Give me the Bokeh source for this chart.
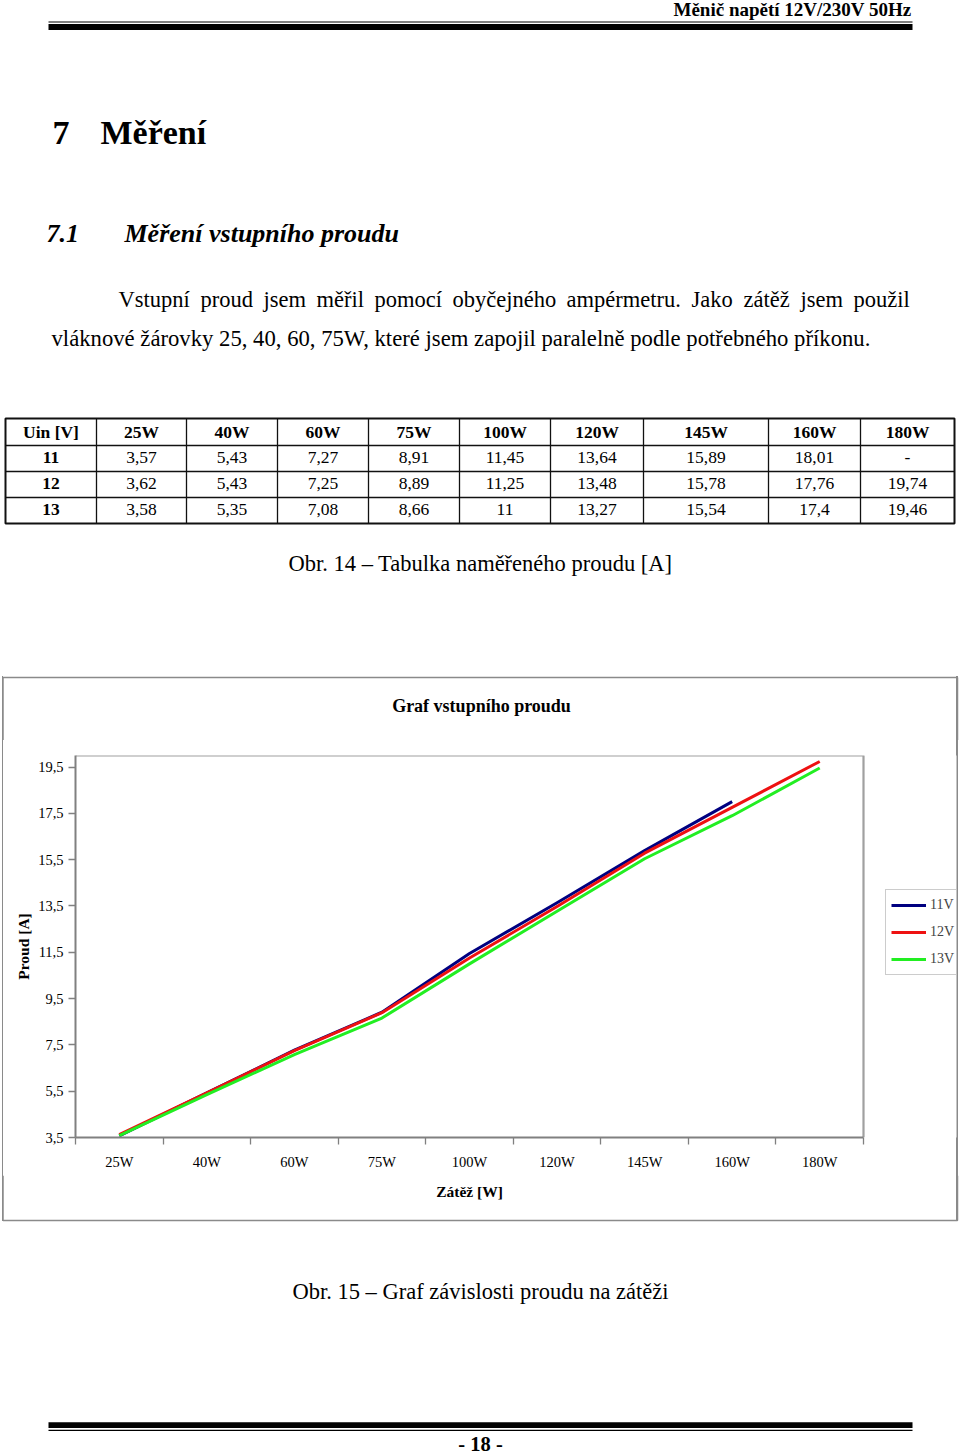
from bokeh.plotting import figure
from bokeh.layouts import column, row
from bokeh.models import Range1d, FixedTicker, CustomJSTickFormatter, Legend, LegendItem
from bokeh.embed import file_html
from bokeh.resources import INLINE
from bokeh.core.properties import value

# ---------------- data ----------------
loads = ["25W", "40W", "60W", "75W", "100W", "120W", "145W", "160W", "180W"]
voltages = ["11", "12", "13"]
i_11v = [3.57, 5.43, 7.27, 8.91, 11.45, 13.64, 15.89, 18.01]          # 180W not measured
i_12v = [3.62, 5.43, 7.25, 8.89, 11.25, 13.48, 15.78, 17.76, 19.74]
i_13v = [3.58, 5.35, 7.08, 8.66, 11.0, 13.27, 15.54, 17.4, 19.46]
series_names = ["11V", "12V", "13V"]
series_colors = ["#000080", "#ee1111", "#22ee22"]
y_ticks = [3.5, 5.5, 7.5, 9.5, 11.5, 13.5, 15.5, 17.5, 19.5]
y_lo, y_hi = 3.5, 20.0

SERIF = value("Liberation Serif")
W = 960
BOX = "#8a8a8a"
BASE_SHIFT = 0.4   # compensation of the renderer's alphabetic baseline offset (in em)

SIDE_LINES = (f"linear-gradient(to right, white 1.75px, {BOX} 1.75px, {BOX} 3.25px, white 3.25px, "
              f"white 956.25px, {BOX} 956.25px, {BOX} 957.75px, white 957.75px)")


def page_fig(h, w=W):
    p = figure(width=w, height=h, x_range=Range1d(0, w), y_range=Range1d(h, 0),
               output_backend="svg", toolbar_location=None,
               x_axis_location=None, y_axis_location=None, title=None,
               min_border=0, outline_line_color=None,
               background_fill_color="white", background_fill_alpha=0.0,
               border_fill_color="white", border_fill_alpha=0.0)
    for g in p.grid:
        g.visible = False
    return p


def txts(p, xs, y, texts, size, style="normal", align="left", color="black"):
    yy = y - BASE_SHIFT * size
    p.text(x=list(xs), y=[yy] * len(texts), text=list(texts), text_font=SERIF,
           text_font_size=value(f"{size}px"), text_font_style=value(style),
           text_align=value(align), text_baseline=value("alphabetic"), text_color=color)


def txt(p, x, y, s, size, style="normal", align="left", color="black"):
    txts(p, [x], y, [s], size, style, align, color)


def fmt(v):
    return f"{v:g}".replace(".", ",")


# ---------------- top part of page ----------------
TOP_H = 740
top = page_fig(TOP_H)
txt(top, 911, 16.5, "Měnič napětí 12V/230V 50Hz", 19, "bold", "right")
top.quad(left=[48], right=[912], top=[20.9], bottom=[22.1], fill_color="black", line_color=None)
top.quad(left=[48], right=[912], top=[23.4], bottom=[29.4], fill_color="black", line_color=None)

txt(top, 52, 146, "7", 34, "bold")
txt(top, 100, 146, "Měření", 34, "bold")
txt(top, 46, 243, "7.1", 26, "bold italic")
txt(top, 124, 243, "Měření vstupního proudu", 26, "bold italic")

line1 = ["Vstupní", "proud", "jsem", "měřil", "pomocí", "obyčejného",
         "ampérmetru.", "Jako", "zátěž", "jsem", "použil"]
line1_x = [118, 200, 263, 316, 374, 452, 566, 691, 743, 800, 853]
txts(top, line1_x, 308, line1, 22.5)
txt(top, 51, 347, "vláknové žárovky 25, 40, 60, 75W, které jsem zapojil paralelně podle potřebného příkonu.", 22.7)

# table
col_edges = [5, 96, 186, 277, 368, 459, 550, 643, 768, 860, 954]
row_edges = [418, 445, 471, 497, 523]
row_base = [438.5, 464, 490, 516]
inner_v = col_edges[1:-1]
top.segment(x0=inner_v, y0=[row_edges[0]] * len(inner_v), x1=inner_v, y1=[row_edges[-1]] * len(inner_v),
            line_color="#111111", line_width=1.3)
inner_h = row_edges[1:-1]
top.segment(x0=[col_edges[0]] * len(inner_h), y0=inner_h, x1=[col_edges[-1]] * len(inner_h), y1=inner_h,
            line_color="#111111", line_width=1.3)
top.quad(left=[col_edges[0]], right=[col_edges[-1]], top=[row_edges[0]], bottom=[row_edges[-1]],
         fill_color=None, line_color="#111111", line_width=2)

centers = [(col_edges[i] + col_edges[i + 1]) / 2 for i in range(len(col_edges) - 1)]
header = ["Uin [V]"] + loads
txts(top, centers, row_base[0], header, 17.5, "bold", "center")
rows = [i_11v, i_12v, i_13v]
for r, (volt, vals) in enumerate(zip(voltages, rows)):
    cells = [fmt(v) for v in vals] + ["-"] * (len(loads) - len(vals))
    yb = row_base[r + 1]
    txt(top, centers[0], yb, volt, 17.5, "bold", "center")
    txts(top, centers[1:], yb, cells, 17.5, "normal", "center")

txt(top, 480, 572, "Obr. 14 – Tabulka naměřeného proudu [A]", 22.5, "normal", "center")

# chart box (upper part) + chart title
top.segment(x0=[2.5], y0=[677], x1=[957], y1=[677], line_color=BOX, line_width=1.5)
top.segment(x0=[2.5, 957], y0=[677, 677], x1=[2.5, 957], y1=[TOP_H, TOP_H], line_color=BOX, line_width=1.5)
txt(top, 481, 713, "Graf vstupního proudu", 18, "bold", "center")

# ---------------- chart ----------------
CH_H = 435       # page y 740 .. 1175
CAT_W = 788      # pixel width of the category area (plot area)
FRAME_W = 881    # frame extends to the right so that the legend fits inside it
x_lo = -0.5
x_cat_hi = len(loads) - 0.5
x_hi = x_lo + len(loads) * FRAME_W / CAT_W

cp = figure(width=W, height=CH_H, x_range=Range1d(x_lo, x_hi), y_range=Range1d(y_lo, y_hi),
            output_backend="svg", toolbar_location=None, title=None,
            min_border_left=75, min_border_right=W - 75 - FRAME_W, min_border_top=15,
            min_border_bottom=CH_H - 397,
            outline_line_color=None,
            background_fill_color="white", border_fill_color="white", border_fill_alpha=0.0,
            styles={"background": SIDE_LINES})
for g in cp.grid:
    g.visible = False

# top and right border of the plot area
cp.line(x=[x_lo, x_cat_hi, x_cat_hi], y=[y_hi, y_hi, y_lo], line_color="#a0a0a0", line_width=2.2)

xa = cp.xaxis[0]
xa.bounds = (x_lo, x_cat_hi)
xa.ticker = FixedTicker(ticks=list(range(len(loads))),
                        minor_ticks=[i - 0.5 for i in range(len(loads) + 1)])
xa.formatter = CustomJSTickFormatter(args=dict(labels=loads),
                                     code="const i = Math.round(tick); return labels[i] || '';")
xa.major_tick_out = 0
xa.major_tick_in = 0
xa.minor_tick_out = 7
xa.minor_tick_in = 0
xa.major_label_standoff = 9

ya = cp.yaxis[0]
ya.ticker = FixedTicker(ticks=y_ticks)
ya.formatter = CustomJSTickFormatter(code="return tick.toFixed(1).replace('.', ',');")
ya.major_tick_out = 7
ya.major_tick_in = 0
ya.minor_tick_out = 0
ya.minor_tick_in = 0
ya.major_label_standoff = 5
ya.axis_label = "Proud [A]"
ya.axis_label_standoff = 3

for ax in (xa, ya):
    ax.axis_line_color = "#808080"
    ax.axis_line_width = 2
    ax.major_tick_line_color = "#808080"
    ax.minor_tick_line_color = "#808080"
    ax.major_tick_line_width = 1.3
    ax.minor_tick_line_width = 1.3
    ax.major_label_text_font = "Liberation Serif"
    ax.major_label_text_font_size = "14.5px"
    ax.major_label_text_color = "black"
    ax.axis_label_text_font = "Liberation Serif"
    ax.axis_label_text_font_size = "15.5px"
    ax.axis_label_text_font_style = "bold"
    ax.axis_label_text_color = "black"

x_idx = list(range(len(loads)))
items = []
for name, vals, col in zip(series_names, [i_11v, i_12v, i_13v], series_colors):
    r = cp.line(x=x_idx[:len(vals)], y=vals, line_color=col, line_width=3, line_join="round")
    items.append(LegendItem(label=name, renderers=[r]))

legend = Legend(items=items, location=(810, 162), orientation="vertical",
                label_text_font="Liberation Serif", label_text_font_size="14px",
                glyph_width=35, glyph_height=20, label_height=20, label_standoff=4,
                spacing=7, padding=5, margin=0,
                border_line_color="#9a9a9a", border_line_width=1,
                background_fill_color="white", background_fill_alpha=1.0)
cp.add_layout(legend)

# ---------------- bottom part of page ----------------
BOT_Y0 = 740 + CH_H
BOT_H = 1455 - BOT_Y0
bot = page_fig(BOT_H)
box_bottom = 1220 - BOT_Y0
bot.segment(x0=[2.5, 957], y0=[0, 0], x1=[2.5, 957], y1=[box_bottom, box_bottom], line_color=BOX, line_width=1.5)
bot.segment(x0=[2.5], y0=[box_bottom], x1=[957], y1=[box_bottom], line_color=BOX, line_width=1.5)
txt(bot, 469, 1197 - BOT_Y0, "Zátěž [W]", 15.5, "bold", "center")
txt(bot, 480, 1300 - BOT_Y0, "Obr. 15 – Graf závislosti proudu na zátěži", 22.5, "normal", "center")
bot.quad(left=[48], right=[912], top=[1421.7 - BOT_Y0], bottom=[1427.5 - BOT_Y0], fill_color="black", line_color=None)
bot.quad(left=[48], right=[912], top=[1429.3 - BOT_Y0], bottom=[1430.5 - BOT_Y0], fill_color="black", line_color=None)
txt(bot, 480, 1451.5 - BOT_Y0, "- 18 -", 20.5, "bold", "center")

# page background: white, with the chart box side lines between its top (677) and bottom (1220)
page_bg = ("linear-gradient(to bottom, white 676.25px, transparent 676.25px, "
           "transparent 1220.75px, white 1220.75px), " + SIDE_LINES)

# the chart is wrapped in its own row so that the column does not align its borders with the page parts
layout = column(top, row(cp), bot, styles={"background": page_bg})

with open("out.html", "w") as f:
    f.write(file_html(layout, INLINE, title="Měření vstupního proudu"))
